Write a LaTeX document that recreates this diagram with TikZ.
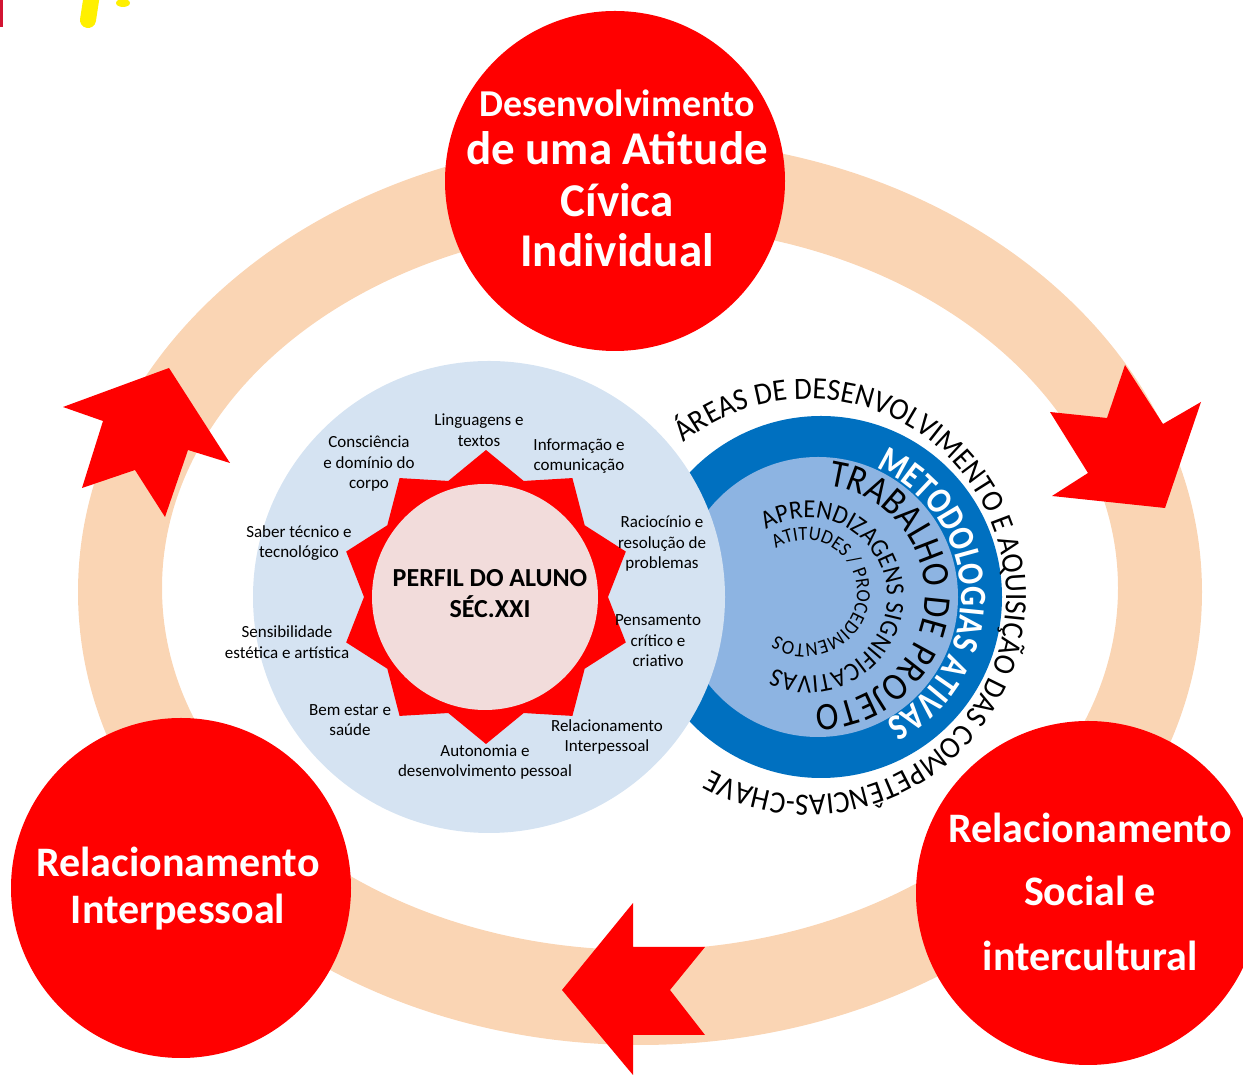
\documentclass[tikz,border=0pt]{standalone}
\usepackage{fontspec}
\setmainfont{Carlito}
\newfontfamily\condA[FakeStretch=0.93]{Carlito}
\newfontfamily\condB[FakeStretch=0.88]{Carlito}
\newfontfamily\condC[FakeStretch=0.84]{Carlito}
\usetikzlibrary{decorations.text}
\definecolor{peach}{RGB}{250,213,180}
\definecolor{redc}{RGB}{255,0,0}
\definecolor{lblue}{RGB}{213,227,242}
\definecolor{pinkc}{RGB}{242,220,219}
\definecolor{dblue}{RGB}{0,112,192}
\definecolor{mblue}{RGB}{141,180,226}
\definecolor{yel}{RGB}{255,240,0}
\definecolor{crim}{RGB}{210,20,50}
\begin{document}
\begin{tikzpicture}[x=1pt,y=1pt,
  bigcircle/.style={circle, fill=redc, inner sep=0pt},
  bigtxt/.style={text=white, font=\fontsize{47}{51}\selectfont\bfseries, anchor=base, inner sep=0pt},
  lab/.style={align=center, font=\fontsize{17}{20.5}\selectfont, text=black, inner sep=0pt},
  arrowshape/.style={fill=redc},
  curved/.style={decorate, decoration={text along path, text align=left, text={#1}}}
  ]
\useasboundingbox (0,0) rectangle (1243,1076);
% stray clip-art remnants top-left
\fill[crim] (0,1049) rectangle (3,1076);
\draw[yel, line width=16, line cap=round] (92,1082) -- (88,1056);
\fill[yel] (123,1073) ellipse [x radius=7, y radius=4];
% peach ring
\fill[peach, even odd rule] (640,484) ellipse [x radius=562, y radius=453]
      (640,488) ellipse [x radius=478, y radius=362];
% big red circles
\node[bigcircle, minimum size=340] (ctop) at (615,895) {};
\node[bigcircle, minimum size=340] (cbl) at (181,188) {};
\node[bigcircle, minimum size=344] (cbr) at (1088,183) {};
% arrows
\fill[arrowshape] (562,86) -- (633,173) -- (633,129) -- (705,129) -- (670,86) -- (705,41) -- (633,41) -- (633,1) -- cycle;
\fill[arrowshape] (169,708) -- (230,613) -- (188,626) -- (165,559) -- (135,606) -- (82,588) -- (103,655) -- (63,669) -- cycle;
\fill[arrowshape] (1165,568) -- (1052,580) -- (1088,603) -- (1050,664) -- (1107,658) -- (1125,711) -- (1163,652) -- (1201,674) -- cycle;
% blue circles
\node[circle, fill=dblue, minimum size=362, inner sep=0pt] (dbc) at (821,479) {};
\node[circle, fill=mblue, minimum size=280, inner sep=0pt] (mbc) at (818,479) {};
% light blue big circle
\node[circle, fill=lblue, minimum size=472, inner sep=0pt] (lbc) at (489,479) {};
% star
\fill[redc, shift={(486,479)}] (90:147) \foreach \i in {0,...,9}{ -- (108+36*\i:122) -- (126+36*\i:147)} -- cycle;
\node[circle, fill=pinkc, minimum size=226, inner sep=0pt] (pink) at (485,479) {};
\node[align=center, font=\fontsize{26}{31}\selectfont\bfseries, inner sep=0pt] (perfil) at (490,482) {PERFIL DO ALUNO\\SÉC.XXI};
% labels
\node[lab] (l1) at (479,646) {Linguagens e\\textos};
\node[lab] (l2) at (369,612) {Consciência\\e domínio do\\corpo};
\node[lab] (l3) at (579,620) {Informação e\\comunicação};
\node[lab] (l4) at (299,533) {Saber técnico e\\tecnológico};
\node[lab] (l5) at (662,532) {Raciocínio e\\resolução de\\problemas};
\node[lab] (l6) at (658,435) {Pensamento\\crítico e\\criativo};
\node[lab] (l7) at (287,434) {Sensibilidade\\estética e artística};
\node[lab] (l8) at (350,356) {Bem estar e\\saúde};
\node[lab] (l9) at (607,339) {Relacionamento\\Interpessoal};
\node[lab] (l10) at (485,314) {Autonomia e\\desenvolvimento pessoal};
% big circle texts
\node[bigtxt, font=\fontsize{38}{40}\selectfont\bfseries] (t1) at (617,959) {Desenvolvimento};
\node[bigtxt] (t2) at (617,911) {de uma Atitude};
\node[bigtxt] (t3) at (617,859) {Cívica};
\node[bigtxt] (t4) at (617,809) {Individual};
\node[bigtxt, font=\fontsize{42}{44}\selectfont\bfseries] (b1) at (178,199) {Relacionamento};
\node[bigtxt, font=\fontsize{42}{44}\selectfont\bfseries] (b2) at (178,152) {Interpessoal};
\node[bigtxt, font=\fontsize{42}{44}\selectfont\bfseries] (r1) at (1090,233) {Relacionamento};
\node[bigtxt, font=\fontsize{42}{44}\selectfont\bfseries] (r2) at (1090,170) {Social e};
\node[bigtxt, font=\fontsize{42}{44}\selectfont\bfseries] (r3) at (1090,105) {intercultural};
% curved texts
\coordinate (ca) at (808,479);
\coordinate (cm) at (821,479);
\coordinate (ct) at (815,481);
\coordinate (cp) at (808,479);
\coordinate (ci) at (805,484);
\path[curved={|\condA\fontsize{31}{31}\selectfont|ÁREAS DE DESENVOLVIMENTO E AQUISIÇÃO DAS COMPETÊNCIAS-CHAVE}]
  (ca) ++(129:198) arc[start angle=129, end angle=-145, radius=198];
\path[curved={|\condC\fontsize{37}{37}\selectfont\bfseries\color{white}|METODOLOGIAS ATIVAS}]
  (cm) ++(67:140) arc[start angle=67, end angle=-90, radius=140];
\path[curved={|\condB\fontsize{39}{39}\selectfont|TRABALHO DE PROJETO}]
  (ct) ++(83:110) arc[start angle=83, end angle=-105, radius=110];
\path[curved={|\condA\fontsize{26}{26}\selectfont|APRENDIZAGENS SIGNIFICATIVAS}]
  (cp) ++(122:79) arc[start angle=122, end angle=-140, radius=79];
\path[curved={|\condA\fontsize{20}{20}\selectfont|ATITUDES / PROCEDIMENTOS}]
  (ci) ++(124:52) arc[start angle=124, end angle=-150, radius=52];
\end{tikzpicture}
\end{document}
